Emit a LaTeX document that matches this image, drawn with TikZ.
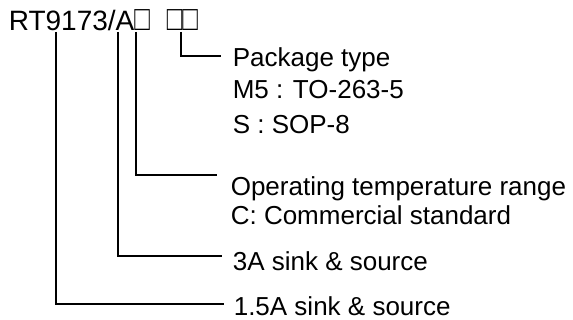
\documentclass[tikz,border=0pt]{standalone}
\usepackage{graphicx}
\usepackage{fontspec}
\setmainfont{Liberation Sans}
\newcommand{\codebox}{\scalebox{0.92}[1.25]{□}}

\begin{document}
\begin{tikzpicture}[x=1pt, y=-1pt, line width=1.6pt,
  every node/.style={inner sep=0pt, anchor=base west, font=\fontsize{26}{31}\selectfont}]
  \useasboundingbox (0,0) rectangle (573,320);
  % Part number
  \node[font=\fontsize{28}{33}\selectfont] (pn) at (8,31)
    {RT9173/A\codebox\hspace{17pt}\codebox\codebox};
  % Code fields below the part number
  \coordinate (fA) at (56,32);
  \coordinate (fB) at (118,32);
  \coordinate (fC) at (136,32);
  \coordinate (fD) at (181,32);
  % Line ends next to the labels
  \coordinate (eA) at (224,304);
  \coordinate (eB) at (222,256);
  \coordinate (eC) at (217,175);
  \coordinate (eD) at (221,56);
  % Labels
  \node (pkg)  at (232,67)  {Package type};
  \node (pkgM) at (232,99)  {M5 : TO-263-5};
  \node (pkgS) at (232,134) {S : SOP-8};
  \node (tmp)  at (230,196) {Operating temperature range};
  \node (tmpC) at (230,225) {C: Commercial standard};
  \node (cur3) at (232,271) {3A sink \& source};
  \node (cur1) at (233,316) {1.5A sink \& source};
  % Leader lines
  \draw (fA) |- (eA);
  \draw (fB) |- (eB);
  \draw (fC) |- (eC);
  \draw (fD) |- (eD);
\end{tikzpicture}
\end{document}
